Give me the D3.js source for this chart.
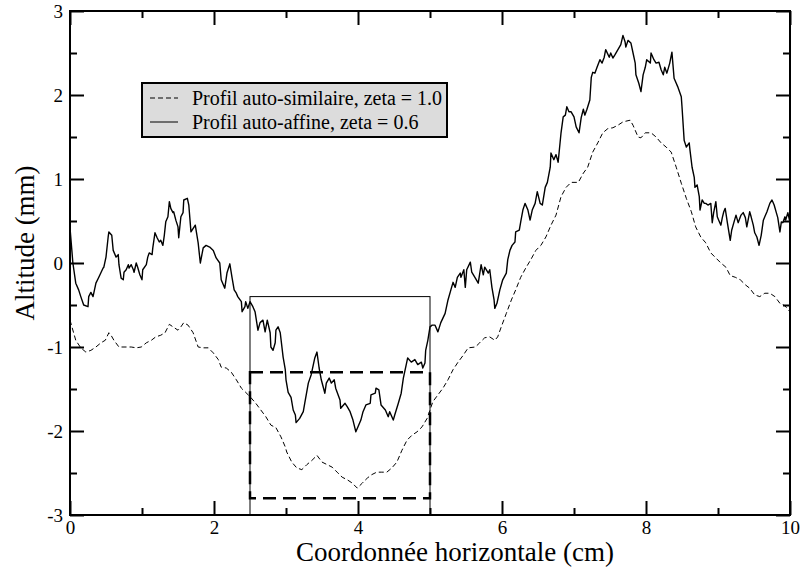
<!DOCTYPE html>
<html><head><meta charset="utf-8">
<script src="https://cdn.jsdelivr.net/npm/d3@7"></script>
<style>
html,body{margin:0;padding:0;background:#fff;}
svg{display:block;font-family:"Liberation Serif","Times New Roman",Times,serif;}
</style></head>
<body>
<svg id="chart" width="802" height="574"></svg>
<script>
// ---- data ----
const solidX = [0,0.04,0.08,0.12,0.15,0.19,0.25,0.26,0.29,0.32,0.36,0.40,0.46,0.47,0.50,0.53,0.54,0.58,0.60,0.64,0.67,0.68,0.71,0.74,0.75,0.78,0.81,0.82,0.85,0.88,0.89,0.92,0.94,0.97,1.00,1.01,1.06,1.08,1.10,1.14,1.15,1.18,1.21,1.24,1.26,1.29,1.31,1.33,1.36,1.38,1.40,1.43,1.44,1.47,1.50,1.51,1.54,1.57,1.58,1.63,1.65,1.68,1.74,1.78,1.81,1.85,1.89,1.94,1.99,2.03,2.08,2.10,2.15,2.18,2.22,2.25,2.28,2.31,2.33,2.38,2.39,2.43,2.44,2.47,2.50,2.54,2.57,2.61,2.64,2.68,2.71,2.74,2.78,2.79,2.82,2.85,2.86,2.89,2.92,2.96,2.99,3.00,3.03,3.07,3.10,3.13,3.14,3.19,3.24,3.26,3.31,3.35,3.40,3.43,3.46,3.49,3.54,3.56,3.60,3.63,3.67,3.69,3.75,3.76,3.82,3.85,3.89,3.93,3.97,4.00,4.04,4.07,4.11,4.17,4.18,4.24,4.25,4.29,4.32,4.38,4.42,4.44,4.49,4.51,4.56,4.60,4.63,4.67,4.69,4.74,4.79,4.83,4.88,4.90,4.93,4.94,4.97,5.00,5.03,5.07,5.11,5.15,5.21,5.25,5.29,5.32,5.35,5.38,5.42,5.43,5.47,5.49,5.51,5.56,5.58,5.63,5.67,5.71,5.74,5.76,5.81,5.83,5.86,5.89,5.90,5.93,5.97,6.01,6.06,6.08,6.11,6.14,6.18,6.19,6.24,6.26,6.29,6.32,6.36,6.39,6.42,6.46,6.49,6.53,6.56,6.60,6.63,6.67,6.68,6.72,6.75,6.78,6.82,6.85,6.88,6.90,6.93,6.96,7.00,7.03,7.07,7.10,7.13,7.15,7.18,7.22,7.24,7.26,7.29,7.32,7.36,7.39,7.42,7.44,7.49,7.51,7.54,7.57,7.61,7.65,7.68,7.71,7.72,7.75,7.79,7.82,7.85,7.86,7.90,7.93,7.96,7.99,8.01,8.06,8.07,8.11,8.14,8.18,8.21,8.24,8.26,8.29,8.33,8.36,8.39,8.42,8.44,8.49,8.50,8.53,8.56,8.60,8.61,8.64,8.67,8.68,8.71,8.74,8.75,8.78,8.81,8.83,8.86,8.90,8.92,8.94,8.97,8.99,9.01,9.04,9.06,9.08,9.10,9.13,9.17,9.19,9.22,9.25,9.28,9.32,9.35,9.38,9.40,9.44,9.46,9.49,9.51,9.54,9.57,9.60,9.63,9.65,9.68,9.72,9.75,9.78,9.81,9.83,9.86,9.88,9.90,9.93,9.94,9.97,10.00];
const solidY = [0.42,0.00,-0.24,-0.32,-0.40,-0.50,-0.52,-0.40,-0.35,-0.40,-0.24,-0.17,-0.06,-0.05,0.07,0.31,0.37,0.33,0.15,0.07,0.10,-0.02,-0.18,-0.20,-0.11,-0.08,-0.02,-0.06,-0.02,-0.08,-0.11,0.00,-0.05,-0.14,-0.20,-0.08,-0.02,0.07,0.12,0.10,0.18,0.36,0.30,0.25,0.27,0.21,0.33,0.49,0.55,0.73,0.65,0.60,0.61,0.51,0.43,0.30,0.55,0.60,0.75,0.77,0.69,0.37,0.45,0.24,0.00,0.18,0.21,0.19,0.15,0.06,0.00,-0.20,-0.30,-0.12,-0.01,-0.17,-0.32,-0.36,-0.40,-0.46,-0.58,-0.52,-0.46,-0.54,-0.46,-0.52,-0.58,-0.80,-0.71,-0.68,-0.82,-0.68,-0.83,-1.00,-1.04,-0.95,-0.80,-0.76,-0.83,-1.12,-1.27,-1.39,-1.54,-1.60,-1.75,-1.81,-1.90,-1.85,-1.77,-1.67,-1.43,-1.33,-1.13,-1.06,-1.25,-1.39,-1.55,-1.43,-1.37,-1.43,-1.39,-1.49,-1.63,-1.73,-1.67,-1.71,-1.77,-1.87,-2.01,-1.95,-1.87,-1.77,-1.69,-1.67,-1.57,-1.55,-1.49,-1.51,-1.69,-1.75,-1.83,-1.77,-1.87,-1.81,-1.67,-1.55,-1.37,-1.21,-1.13,-1.18,-1.15,-1.21,-1.18,-1.25,-1.19,-1.04,-0.92,-0.76,-0.74,-0.74,-0.82,-0.71,-0.60,-0.44,-0.32,-0.23,-0.29,-0.17,-0.12,-0.17,-0.08,-0.29,-0.08,0.01,-0.11,-0.18,-0.24,-0.02,-0.14,-0.05,-0.12,-0.08,-0.29,-0.44,-0.54,-0.48,-0.32,-0.20,-0.12,0.04,0.15,0.21,0.25,0.37,0.39,0.49,0.63,0.71,0.63,0.51,0.63,0.71,0.85,0.71,0.69,0.90,0.96,1.14,1.31,1.23,1.29,1.20,1.55,1.74,1.76,1.86,1.80,1.80,1.74,1.62,1.55,1.73,1.83,1.76,1.83,1.94,2.21,2.27,2.26,2.33,2.42,2.38,2.45,2.54,2.45,2.50,2.44,2.48,2.54,2.60,2.71,2.63,2.57,2.65,2.62,2.50,2.38,2.24,2.14,2.04,2.24,2.33,2.42,2.38,2.50,2.42,2.38,2.39,2.30,2.24,2.33,2.26,2.38,2.51,2.20,2.14,2.10,1.98,1.86,1.46,1.38,1.43,1.35,1.14,1.02,0.90,0.93,0.79,0.63,0.75,0.71,0.71,0.69,0.71,0.48,0.60,0.73,0.55,0.51,0.45,0.54,0.61,0.65,0.48,0.27,0.39,0.48,0.57,0.48,0.57,0.60,0.54,0.43,0.61,0.55,0.45,0.36,0.31,0.21,0.33,0.51,0.55,0.61,0.71,0.75,0.69,0.60,0.54,0.37,0.49,0.48,0.55,0.51,0.60,0.48];

const dashedX = [0,0.08,0.15,0.22,0.29,0.36,0.43,0.49,0.54,0.57,0.61,0.68,0.75,0.85,0.92,0.99,1.06,1.13,1.19,1.26,1.32,1.38,1.43,1.50,1.54,1.58,1.64,1.71,1.78,1.85,1.92,1.99,2.06,2.10,2.17,2.24,2.31,2.38,2.44,2.51,2.58,2.65,2.72,2.79,2.86,2.93,2.99,3.01,3.08,3.15,3.22,3.29,3.36,3.43,3.50,3.57,3.64,3.71,3.78,3.85,3.92,3.99,4.06,4.13,4.19,4.26,4.33,4.40,4.47,4.54,4.61,4.68,4.75,4.82,4.89,4.96,5.00,5.04,5.11,5.18,5.25,5.32,5.39,5.46,5.53,5.63,5.69,5.76,5.83,5.90,5.94,5.99,6.06,6.13,6.19,6.26,6.33,6.40,6.47,6.54,6.61,6.68,6.75,6.82,6.89,6.96,7.06,7.13,7.19,7.26,7.33,7.40,7.47,7.54,7.61,7.68,7.78,7.82,7.89,7.93,7.99,8.07,8.14,8.21,8.28,8.35,8.42,8.49,8.56,8.63,8.69,8.76,8.83,8.90,8.97,9.04,9.11,9.17,9.24,9.31,9.38,9.44,9.51,9.58,9.65,9.72,9.79,9.86,9.93,10.00];
const dashedY = [-0.68,-0.92,-1.01,-1.06,-1.04,-1.00,-0.95,-0.92,-0.83,-0.86,-0.92,-1.00,-1.00,-1.00,-1.01,-1.00,-0.95,-0.92,-0.88,-0.86,-0.83,-0.73,-0.76,-0.80,-0.76,-0.71,-0.74,-0.83,-1.00,-1.01,-1.01,-1.07,-1.15,-1.24,-1.25,-1.30,-1.39,-1.49,-1.54,-1.60,-1.67,-1.75,-1.83,-1.93,-1.96,-2.07,-2.19,-2.25,-2.37,-2.44,-2.46,-2.40,-2.35,-2.29,-2.37,-2.40,-2.43,-2.49,-2.55,-2.58,-2.62,-2.68,-2.62,-2.56,-2.52,-2.49,-2.49,-2.49,-2.44,-2.37,-2.23,-2.11,-2.05,-2.01,-1.95,-1.85,-1.75,-1.65,-1.57,-1.49,-1.39,-1.27,-1.18,-1.10,-1.01,-1.00,-0.95,-0.89,-0.88,-0.92,-0.88,-0.76,-0.60,-0.44,-0.32,-0.17,-0.06,0.04,0.15,0.21,0.31,0.45,0.57,0.79,0.90,0.96,0.96,1.07,1.14,1.32,1.43,1.55,1.60,1.61,1.64,1.68,1.70,1.64,1.50,1.49,1.55,1.55,1.50,1.43,1.38,1.32,1.14,0.95,0.77,0.61,0.43,0.31,0.24,0.12,0.06,0.00,-0.05,-0.15,-0.17,-0.20,-0.26,-0.30,-0.38,-0.40,-0.36,-0.36,-0.40,-0.48,-0.51,-0.58];

const xDomain = [0, 10];
const yDomain = [-3, 3];
const xMajor = [0, 2, 4, 6, 8, 10];
const xMinor = [1, 3, 5, 7, 9];
const yMajor = [-3, -2, -1, 0, 1, 2, 3];
const yMinor = [-2.5, -1.5, -0.5, 0.5, 1.5, 2.5];
const xTickLabels = ["0", "2", "4", "6", "8", "10"];
const yTickLabels = ["-3", "-2", "-1", "0", "1", "2", "3"];
const zoomBoxOuter = {x0: 2.5, x1: 5.0, y0: -3.0, y1: -0.4};
const zoomBoxInner = {x0: 2.5, x1: 5.0, y0: -2.8, y1: -1.3};
const legendLabels = ["Profil auto-similaire, zeta = 1.0", "Profil auto-affine, zeta = 0.6"];
const xTitle = "Coordonnée horizontale (cm)";
const yTitle = "Altitude (mm)";

// ---- drawing ----
const FONT = "'Liberation Serif', 'Times New Roman', Times, serif";
const svg = d3.select("#chart");
const L = 70, R = 790, T = 11, B = 515;
const x = d3.scaleLinear().domain(xDomain).range([L, R]);
const y = d3.scaleLinear().domain(yDomain).range([B, T]);

const line = d3.line().x(d => x(d[0])).y(d => y(d[1]));
const solid = solidX.map((v, i) => [v, solidY[i]]);
const dashed = dashedX.map((v, i) => [v, dashedY[i]]);

// zoom boxes
svg.append("rect")
  .attr("x", x(zoomBoxOuter.x0)).attr("y", y(zoomBoxOuter.y1))
  .attr("width", x(zoomBoxOuter.x1) - x(zoomBoxOuter.x0))
  .attr("height", y(zoomBoxOuter.y0) - y(zoomBoxOuter.y1))
  .attr("fill", "none").attr("stroke", "#000").attr("stroke-width", 1);
svg.append("rect")
  .attr("x", x(zoomBoxInner.x0)).attr("y", y(zoomBoxInner.y1))
  .attr("width", x(zoomBoxInner.x1) - x(zoomBoxInner.x0))
  .attr("height", y(zoomBoxInner.y0) - y(zoomBoxInner.y1))
  .attr("fill", "none").attr("stroke", "#000").attr("stroke-width", 2.5)
  .attr("stroke-dasharray", "13,7");

svg.append("path").datum(dashed).attr("d", line)
  .attr("fill", "none").attr("stroke", "#000").attr("stroke-width", 1)
  .attr("stroke-dasharray", "5,3");
svg.append("path").datum(solid).attr("d", line)
  .attr("fill", "none").attr("stroke", "#000").attr("stroke-width", 1.4)
  .attr("stroke-linejoin", "round");

// axes
function styleAxis(g) {
  g.attr("font-family", FONT);
  g.select(".domain").remove();
  g.selectAll(".tick line").attr("stroke", "#000").attr("stroke-width", 2);
  g.selectAll(".tick text").attr("fill", "#000")
    .style("font-family", FONT).style("font-size", "19px");
}
const gB = svg.append("g").attr("transform", `translate(0,${B})`)
  .call(d3.axisBottom(x).tickValues(xMajor).tickSize(-14).tickPadding(6)
    .tickFormat((d, i) => xTickLabels[i]));
styleAxis(gB);
const gBm = svg.append("g").attr("transform", `translate(0,${B})`)
  .call(d3.axisBottom(x).tickValues(xMinor).tickSize(-7).tickFormat(""));
styleAxis(gBm);
const gT = svg.append("g").attr("transform", `translate(0,${T})`)
  .call(d3.axisTop(x).tickValues(xMajor).tickSize(-14).tickFormat(""));
styleAxis(gT);
const gTm = svg.append("g").attr("transform", `translate(0,${T})`)
  .call(d3.axisTop(x).tickValues(xMinor).tickSize(-7).tickFormat(""));
styleAxis(gTm);
const gL = svg.append("g").attr("transform", `translate(${L},0)`)
  .call(d3.axisLeft(y).tickValues(yMajor).tickSize(-14).tickPadding(7)
    .tickFormat((d, i) => yTickLabels[i]));
styleAxis(gL);
gL.selectAll(".tick text").attr("dy", "0.36em");
const gLm = svg.append("g").attr("transform", `translate(${L},0)`)
  .call(d3.axisLeft(y).tickValues(yMinor).tickSize(-7).tickFormat(""));
styleAxis(gLm);
const gR = svg.append("g").attr("transform", `translate(${R},0)`)
  .call(d3.axisRight(y).tickValues(yMajor).tickSize(-14).tickFormat(""));
styleAxis(gR);
const gRm = svg.append("g").attr("transform", `translate(${R},0)`)
  .call(d3.axisRight(y).tickValues(yMinor).tickSize(-7).tickFormat(""));
styleAxis(gRm);

// frame
svg.append("rect").attr("x", L).attr("y", T).attr("width", R - L).attr("height", B - T)
  .attr("fill", "none").attr("stroke", "#000").attr("stroke-width", 2);

// titles
svg.append("text").attr("x", 455).attr("y", 561).attr("text-anchor", "middle")
  .style("font-family", FONT).style("font-size", "27px").attr("fill", "#000").text(xTitle);
svg.append("text").attr("transform", `translate(34,243) rotate(-90)`)
  .attr("text-anchor", "middle").style("font-family", FONT).style("font-size", "27px")
  .attr("fill", "#000").text(yTitle);

// legend
const lg = svg.append("g");
lg.append("rect").attr("x", 142).attr("y", 83).attr("width", 305).attr("height", 54)
  .attr("fill", "#dcdcdc").attr("stroke", "#000").attr("stroke-width", 2);
const rows = [{dash: "5,3", w: 1}, {dash: null, w: 1}];
rows.forEach((r, i) => {
  const cy = 98 + i * 24;
  lg.append("line").attr("x1", 150).attr("x2", 178).attr("y1", cy).attr("y2", cy)
    .attr("stroke", "#000").attr("stroke-width", r.w).attr("stroke-dasharray", r.dash);
  lg.append("text").attr("x", 192).attr("y", cy).attr("dy", "0.35em")
    .style("font-family", FONT).style("font-size", "20px").attr("fill", "#000").text(legendLabels[i]);
});
</script>
</body></html>
